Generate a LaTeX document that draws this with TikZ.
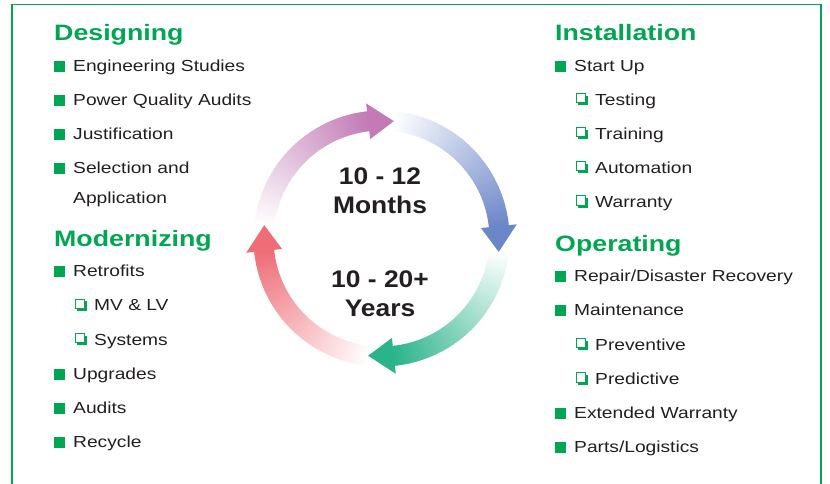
\documentclass[tikz,border=0pt]{standalone}
\usepackage{fontspec}
\setmainfont[FakeStretch=1.2]{Liberation Sans}
\newfontfamily\cfont[FakeStretch=1.1]{Liberation Sans}
\definecolor{hgreen}{HTML}{00A651}
\definecolor{txt}{HTML}{231F20}
\definecolor{cpurple}{HTML}{C27BB6}
\definecolor{cblue}{HTML}{6C87C8}
\definecolor{cgreen}{HTML}{2BB48A}
\definecolor{cred}{HTML}{EE6D76}
\newcommand\filleditem[4]{%
  \fill[hgreen] (#1,#2-10.5) rectangle (#1+11,#2+0.5);
  \node[item] (#3) at (#1+19,#2) {#4};}
\newcommand\hollowitem[4]{%
  \fill[hgreen] (#1+2,#2-9.5) rectangle (#1+11.5,#2+0.3);
  \filldraw[fill=white, draw=hgreen, line width=1] (#1,#2-11.5) rectangle (#1+9.5,#2-2.2);
  \node[item] (#3) at (#1+19,#2) {#4};}
\begin{document}
\begin{tikzpicture}[x=1pt,y=-1pt,
  head/.style={anchor=base west, inner sep=0pt, text=hgreen, font=\fontsize{22.3}{26}\selectfont\bfseries},
  item/.style={anchor=base west, inner sep=0pt, text=txt, font=\fontsize{16}{19}\selectfont},
  mid/.style={anchor=base, inner sep=0pt, text=txt, font=\cfont\fontsize{24}{28}\selectfont\bfseries}]
\useasboundingbox (0,0) rectangle (830,483);
\draw[hgreen, line width=1.6] (12,484) -- (12,4.5) -- (821,4.5) -- (821,484);

% left column
\node[head] (designing) at (54,40.7) {Designing};
\filleditem{54}{71.5}{eng}{Engineering Studies}
\filleditem{54}{105.7}{pqa}{Power Quality Audits}
\filleditem{54}{139.9}{just}{Justification}
\filleditem{54}{173}{sel}{Selection and}
\node[item] (app) at (73,203) {Application};
\node[head] (modern) at (54,246.7) {Modernizing};
\filleditem{54}{276.7}{retro}{Retrofits}
\hollowitem{75}{310.9}{mvlv}{MV \& LV}
\hollowitem{75}{345}{sys}{Systems}
\filleditem{54}{379.2}{upg}{Upgrades}
\filleditem{54}{413.4}{aud}{Audits}
\filleditem{54}{447.6}{rec}{Recycle}

% right column
\node[head] (install) at (555,40.7) {Installation};
\filleditem{555}{71}{start}{Start Up}
\hollowitem{576}{105}{test}{Testing}
\hollowitem{576}{139}{train}{Training}
\hollowitem{576}{173}{auto}{Automation}
\hollowitem{576}{207.3}{warr}{Warranty}
\node[head] (operating) at (555,251.7) {Operating};
\filleditem{555}{281.7}{repair}{Repair/Disaster Recovery}
\filleditem{555}{315.9}{maint}{Maintenance}
\hollowitem{576}{350}{prev}{Preventive}
\hollowitem{576}{384.2}{pred}{Predictive}
\filleditem{555}{418.6}{ext}{Extended Warranty}
\filleditem{555}{452.7}{parts}{Parts/Logistics}

% cycle ring
\begin{scope}[shift={(381.5,238.5)}, yscale=-1]
\foreach \tz/\tb/\col in {173.5/96.5/cpurple, 84/6/cblue, -6.5/-84/cgreen, -96.5/-174/cred}{
  \foreach \i in {0,...,59}{
    \pgfmathsetmacro\aa{\tz+(\tb-\tz)*\i/60}
    \pgfmathsetmacro\ab{\tz+(\tb-\tz)*(\i+1.3)/60}
    \pgfmathsetmacro\pp{(\i+0.5)/60*100}
    \fill[\col!\pp!white] (\aa:108) arc[start angle=\aa, end angle=\ab, radius=108]
      -- (\ab:128) arc[start angle=\ab, end angle=\aa, radius=128] -- cycle;
  }
}
\foreach \tb/\col in {96.5/cpurple, 6/cblue, -84/cgreen, -174/cred}{
  \pgfmathsetmacro\tipang{\tb-12.5}
  \fill[\col] (\tb:100) -- (\tipang:118) -- (\tb:136) -- cycle;
}
\end{scope}

\node[mid] (m1) at (380,184.3) {10 - 12};
\node[mid] (m2) at (380,213.3) {Months};
\node[mid] (y1) at (380,287.7) {10 - 20+};
\node[mid] (y2) at (380,316.7) {Years};
\end{tikzpicture}
\end{document}
